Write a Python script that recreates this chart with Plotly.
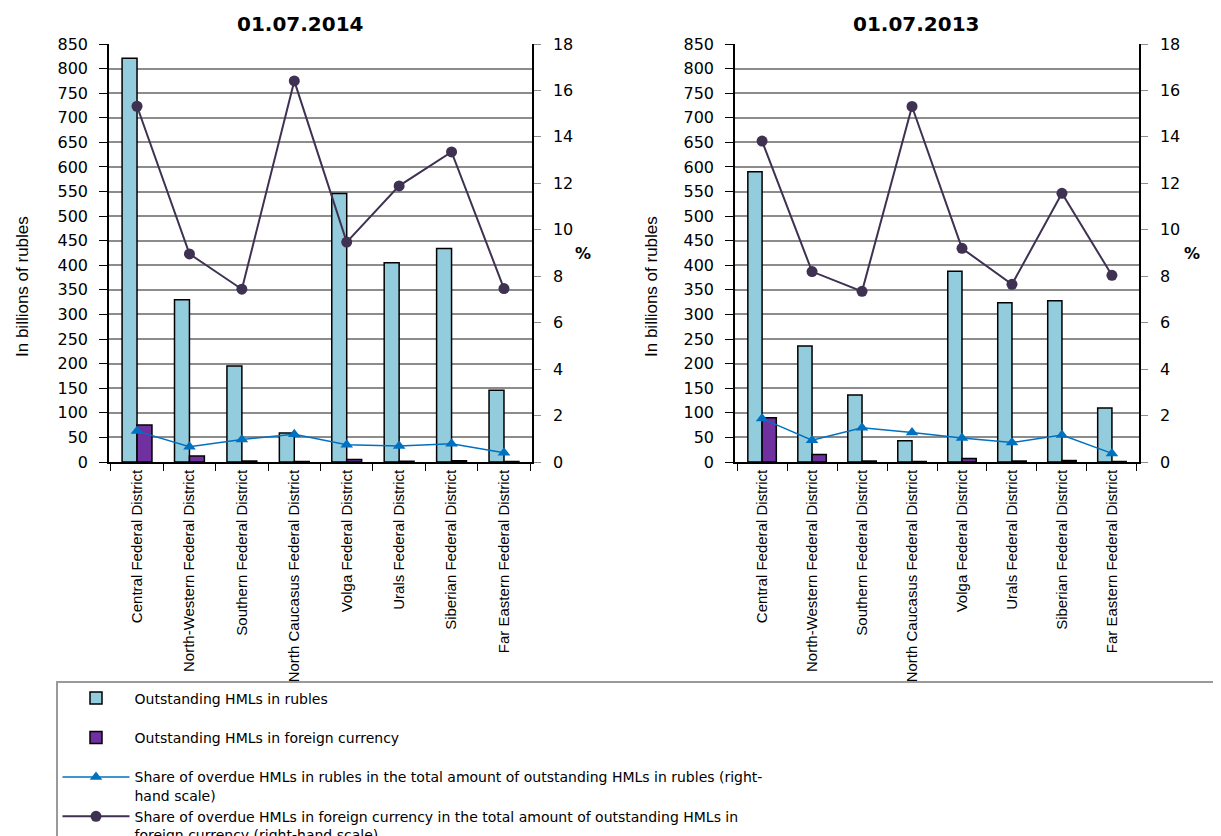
import plotly.graph_objects as go

W, H = 1221, 836
PAGE_OFFSET = 8  # default body margin of the written page

districts = [
    "Central Federal District",
    "North-Western Federal District",
    "Southern Federal District",
    "North Caucasus Federal District",
    "Volga Federal District",
    "Urals Federal District",
    "Siberian Federal District",
    "Far Eastern Federal District",
]

# 01.07.2014
rub_2014 = [821, 330, 195, 59, 546, 405, 434, 146]
fx_2014 = [75, 12, 2, 1, 5, 1.5, 2.5, 1]
share_rub_2014 = [1.33, 0.66, 0.97, 1.19, 0.74, 0.69, 0.79, 0.40]
share_fx_2014 = [15.32, 8.96, 7.44, 16.41, 9.47, 11.89, 13.35, 7.47]

# 01.07.2013
rub_2013 = [590, 236, 136, 43, 388, 324, 328, 110]
fx_2013 = [90, 15, 2, 1, 7, 2, 3, 1]
share_rub_2013 = [1.87, 0.94, 1.47, 1.27, 1.03, 0.84, 1.16, 0.37]
share_fx_2013 = [13.82, 8.20, 7.35, 15.31, 9.20, 7.65, 11.57, 8.04]

left_ticks = list(range(0, 851, 50))
right_ticks = list(range(0, 19, 2))

names = [
    "Outstanding HMLs in rubles<br> ",
    "Outstanding HMLs in foreign currency<br> ",
    "Share of overdue HMLs in rubles in the total amount of outstanding HMLs in rubles (right-<br>hand scale)",
    "Share of overdue HMLs in foreign currency in the total amount of outstanding HMLs in<br>foreign currency (right-hand scale)",
]

C_RUB = "#93CDDD"
C_FX = "#7030A0"
C_LINE_RUB = "#0070C0"
C_LINE_FX = "#3F3151"
GRID = "#8C8C8C"

WIDE = "DejaVu Sans"
NARROW = "Liberation Sans Narrow, Arial Narrow, Liberation Sans"


def px_x(v):
    return (v - PAGE_OFFSET) / W


def px_y(v):
    return 1 - (v - PAGE_OFFSET) / H


fig = go.Figure()

panels = [
    ("x", "y", "y2", rub_2014, fx_2014, share_rub_2014, share_fx_2014, True),
    ("x2", "y3", "y4", rub_2013, fx_2013, share_rub_2013, share_fx_2013, False),
]

for xa, ya, ya2, rub, fx, s_rub, s_fx, show in panels:
    fig.add_trace(go.Bar(
        x=districts, y=rub, name=names[0], xaxis=xa, yaxis=ya,
        marker=dict(color=C_RUB, line=dict(color="black", width=1.5)),
        showlegend=show,
    ))
    fig.add_trace(go.Bar(
        x=districts, y=fx, name=names[1], xaxis=xa, yaxis=ya,
        marker=dict(color=C_FX, line=dict(color="black", width=1.5)),
        showlegend=show,
    ))
    fig.add_trace(go.Scatter(
        x=districts, y=s_rub, name=names[2], xaxis=xa, yaxis=ya2,
        mode="lines+markers",
        line=dict(color=C_LINE_RUB, width=1.5),
        marker=dict(symbol="triangle-up", size=11, color=C_LINE_RUB),
        showlegend=show,
    ))
    fig.add_trace(go.Scatter(
        x=districts, y=s_fx, name=names[3], xaxis=xa, yaxis=ya2,
        mode="lines+markers",
        line=dict(color=C_LINE_FX, width=2),
        marker=dict(symbol="circle", size=11, color=C_LINE_FX),
        showlegend=show,
    ))

y_dom = [px_y(462), px_y(44)]

xcat = dict(
    type="category", automargin=False,
    tickangle=-90,
    tickfont=dict(family=NARROW, size=15, color="black"),
    showline=True, linecolor="black", linewidth=1.5,
    ticks="outside", tickson="boundaries", ticklen=7, tickcolor="black",
    showgrid=False,
)
yleft = dict(
    range=[0, 850], tickvals=left_ticks, automargin=False,
    tickfont=dict(family=WIDE, size=16, color="black"),
    showline=True, linecolor="black", linewidth=1.5,
    ticks="outside", ticklen=8, tickcolor="black", ticklabelstandoff=8,
    showgrid=True, gridcolor=GRID, gridwidth=1.5,
    zeroline=False, domain=y_dom,
)
yright = dict(
    range=[0, 18], tickvals=right_ticks, automargin=False,
    tickfont=dict(family=WIDE, size=16, color="black"),
    showline=True, linecolor="black", linewidth=1.5,
    ticks="outside", ticklen=7, tickcolor=GRID, ticklabelstandoff=9,
    showgrid=False, zeroline=False, side="right",
)

fig.update_layout(
    width=W, height=H,
    margin=dict(l=0, r=0, t=0, b=0, autoexpand=False),
    paper_bgcolor="white", plot_bgcolor="white",
    barmode="group", bargap=0.43, bargroupgap=0,
    xaxis=dict(xcat, domain=[px_x(109), px_x(532)], anchor="y"),
    yaxis=dict(yleft, anchor="x"),
    yaxis2=dict(yright, overlaying="y", anchor="x"),
    xaxis2=dict(xcat, domain=[px_x(735), px_x(1139)], anchor="y3"),
    yaxis3=dict(yleft, anchor="x2"),
    yaxis4=dict(yright, overlaying="y3", anchor="x2"),
    legend=dict(
        x=px_x(56), y=px_y(681), xanchor="left", yanchor="top",
        orientation="h", entrywidth=1, entrywidthmode="fraction",
        bgcolor="white", bordercolor="#9A9A9A", borderwidth=1.5,
        font=dict(family=WIDE, size=14, color="black"),
        valign="top", itemwidth=67, traceorder="normal",
    ),
    showlegend=True,
)

annotations = [
    dict(text="<b>01.07.2014</b>", x=px_x(300), y=px_y(24)),
    dict(text="<b>01.07.2013</b>", x=px_x(916), y=px_y(24)),
]
for a in annotations:
    a.update(xref="paper", yref="paper", showarrow=False,
             xanchor="center", yanchor="middle",
             font=dict(family=WIDE, size=20, color="black"))
    fig.add_annotation(**a)

for xpos in (23, 652):
    fig.add_annotation(
        text="In billions of rubles", x=px_x(xpos), y=px_y(287),
        xref="paper", yref="paper", showarrow=False, textangle=-90,
        xanchor="center", yanchor="middle",
        font=dict(family=NARROW, size=17, color="black"),
    )

for xpos in (583, 1192):
    fig.add_annotation(
        text="<b>%</b>", x=px_x(xpos), y=px_y(253),
        xref="paper", yref="paper", showarrow=False,
        xanchor="center", yanchor="middle",
        font=dict(family=WIDE, size=16, color="black"),
    )

fig.write_html("out.html")
